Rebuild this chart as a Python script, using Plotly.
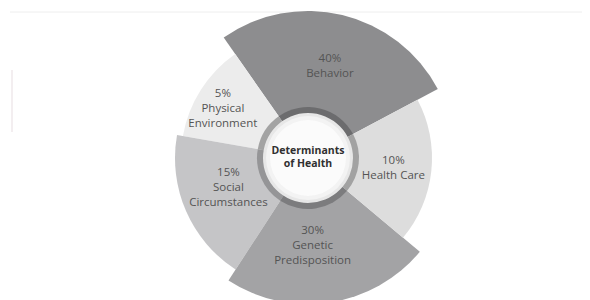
import plotly.graph_objects as go

# ---- data -------------------------------------------------------------
segments = ["Behavior", "Physical Environment", "Social Circumstances",
            "Genetic Predisposition", "Health Care"]
percent = [40, 5, 15, 30, 10]
label_text = ["40%<br>Behavior",
              "5%<br>Physical<br>Environment",
              "15%<br>Social<br>Circumstances",
              "30%<br>Genetic<br>Predisposition",
              "10%<br>Health Care"]
angle_start = [28, 125, 170, 237, 320]   # degrees, counter-clockwise from 3 o'clock
angle_end = [125, 170, 237, 320, 388]
outer_radius = [147, 127, 133, 146, 124]
center_title = "<b>Determinants<br>of Health</b>"

# ---- styling / placement ----------------------------------------------
colors = ["#8d8d8f", "#ececec", "#c5c5c7", "#a3a3a5", "#dddddd"]
ring_colors = ["#6c6c6e", "#a3a3a3", "#959597", "#7c7c7e", "#a2a2a2"]
label_r = [94, 98, 85, 88, 86]
label_theta = [76.5, 150.3, 200.6, -87, -7]
hub_ring = 51
hub_layers = [45, 42, 38]
hub_layer_colors = ["#e7e7e7", "#f3f3f3", "#fbfbfb"]

theta_mid = [(s + e) / 2 for s, e in zip(angle_start, angle_end)]
theta_w = [e - s for s, e in zip(angle_start, angle_end)]

fig = go.Figure()
fig.add_trace(go.Barpolar(
    r=outer_radius, theta=theta_mid, width=theta_w, base=0,
    marker=dict(color=colors, line=dict(width=0)),
    text=[f"{p}% {s}" for p, s in zip(percent, segments)],
    hoverinfo="text", showlegend=False))
fig.add_trace(go.Barpolar(
    r=[hub_ring] * len(segments), theta=theta_mid, width=theta_w, base=0,
    marker=dict(color=ring_colors, line=dict(width=0)),
    hoverinfo="skip", showlegend=False))
for rr, cc in zip(hub_layers, hub_layer_colors):
    fig.add_trace(go.Barpolar(
        r=[rr], theta=[0], width=[360], base=0,
        marker=dict(color=cc, line=dict(width=0)),
        hoverinfo="skip", showlegend=False))
fig.add_trace(go.Scatterpolar(
    r=label_r, theta=label_theta, mode="text", text=label_text,
    textposition="middle center", cliponaxis=False,
    textfont=dict(family="Open Sans", size=11.5, color="#545454"),
    hoverinfo="skip", showlegend=False))
fig.add_trace(go.Scatterpolar(
    r=[0], theta=[0], mode="text", text=[center_title],
    textposition="middle center", cliponaxis=False,
    textfont=dict(family="Open Sans", size=10.5, color="#303030"),
    hoverinfo="skip", showlegend=False))

# page body adds an 8px margin, so the figure is drawn 8px right/down
W, H = 582, 300
cx = 300          # hub centre inside the figure (px)
R = 150           # polar radius in px (radial unit == 1 px)
fig.update_layout(
    width=W, height=H,
    margin=dict(l=0, r=0, t=0, b=0),
    paper_bgcolor="white", plot_bgcolor="white",
    polar=dict(
        domain=dict(x=[(cx - R) / W, (cx + R) / W], y=[0, 1]),
        bgcolor="rgba(0,0,0,0)",
        barmode="overlay",
        radialaxis=dict(range=[0, R], visible=False, showgrid=False),
        angularaxis=dict(rotation=0, direction="counterclockwise",
                         showgrid=False, showline=False,
                         showticklabels=False, ticks=""),
    ),
    shapes=[
        dict(type="line", xref="paper", yref="paper", layer="below",
             x0=2 / W, x1=1, y0=1 - 4 / H, y1=1 - 4 / H,
             line=dict(color="#eeeeee", width=1)),
        dict(type="line", xref="paper", yref="paper", layer="below",
             x0=4 / W, x1=4 / W, y0=1 - 62 / H, y1=1 - 124 / H,
             line=dict(color="#efe9eb", width=1.5)),
    ],
)

fig.write_html("out.html")
